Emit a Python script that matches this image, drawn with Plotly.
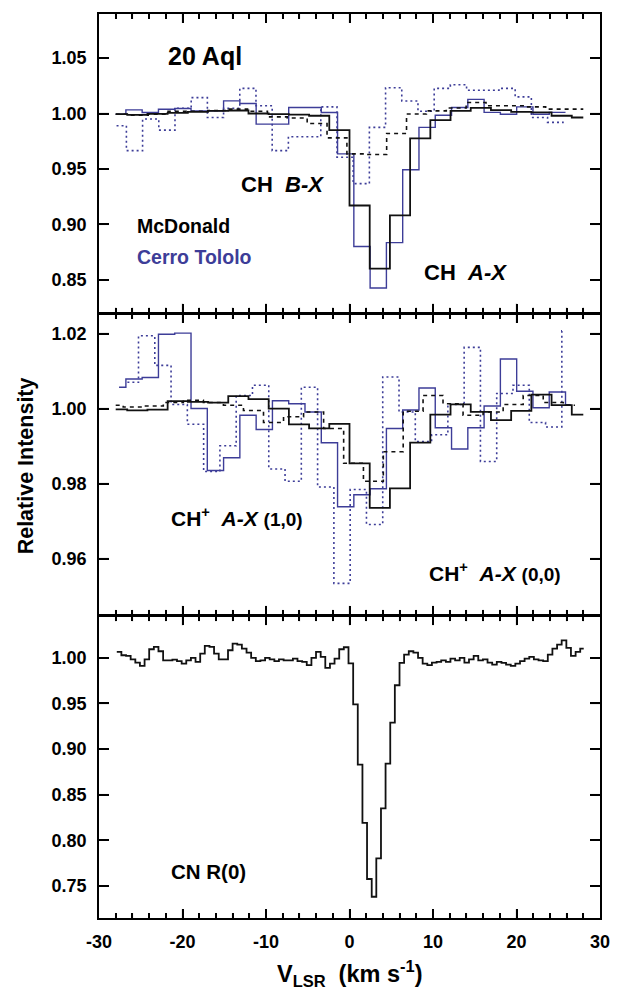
import plotly.graph_objects as go

# ---------------- data (velocity bin edges in km/s, relative intensity per bin) ----------------
# Top panel: CH
ch_ax_mcd_edges = [-28.0, -26.62, -24.2, -21.78, -19.36, -16.94, -14.52, -12.1, -9.68, -7.26, -4.84, -2.42,
                   0.0, 2.42, 4.84, 7.26, 9.68, 12.1, 14.52, 16.94, 19.36, 21.78, 24.2, 26.62, 28.0]
ch_ax_mcd_vals = [0.9994, 0.9988, 0.9997, 1.0006, 1.0015, 1.0024, 1.0027, 1.0000, 0.9994, 0.9990, 0.9980, 0.9850,
                  0.9170, 0.8600, 0.9080, 0.9776, 0.9940, 1.0024, 1.0050, 1.0030, 1.0015, 1.0010, 0.9980, 0.9964]

ch_bx_mcd_edges = [-28.0, -26.49, -24.11, -21.73, -19.35, -16.97, -14.59, -12.21, -9.83, -7.45, -5.07, -2.69,
                   -0.31, 2.07, 4.45, 6.83, 9.21, 11.59, 13.97, 16.35, 18.73, 21.11, 23.49, 25.87, 28.0]
ch_bx_mcd_vals = [0.9994, 0.9985, 0.9994, 1.0020, 1.0020, 1.0027, 1.0040, 1.0020, 0.9970, 0.9960, 0.9910, 0.9780,
                  0.9636, 0.9630, 0.9820, 0.9995, 1.0024, 1.0050, 1.0099, 1.0070, 1.0070, 1.0060, 1.0040, 1.0040]

ch_ax_ctio_edges = [-28.0, -26.78, -24.83, -22.88, -20.93, -18.98, -17.03, -15.08, -13.13, -11.18, -9.23, -7.28,
                    -5.33, -3.38, -1.43, 0.52, 2.47, 4.42, 6.37, 8.32, 10.27, 12.22, 14.17, 16.12, 18.07, 20.02,
                    21.97, 23.92, 25.87]
ch_ax_ctio_vals = [0.9994, 1.0033, 1.0009, 1.0039, 1.0045, 1.0024, 1.0024, 1.0114, 1.0090, 0.9904, 0.9904, 1.0054,
                   1.0054, 1.0009, 0.9636, 0.8800, 0.8426, 0.8835, 0.9492, 0.9875, 0.9985, 1.0054, 1.0128, 1.0010,
                   0.9994, 1.0060, 0.9994, 1.0010]

ch_bx_ctio_edges = [-27.9, -26.72, -24.78, -22.84, -20.9, -18.96, -17.02, -15.08, -13.14, -11.2, -9.26, -7.32,
                    -5.38, -3.44, -1.5, 0.44, 2.38, 4.32, 6.26, 8.2, 10.14, 12.08, 14.02, 15.96, 17.9, 19.84,
                    21.78, 23.72, 25.66]
ch_bx_ctio_vals = [0.9890, 0.9665, 0.9950, 0.9850, 1.0048, 1.0143, 0.9964, 1.0048, 1.0227, 1.0070, 0.9665, 0.9790,
                   0.9790, 1.0060, 0.9606, 0.9367, 0.9875, 1.0233, 1.0113, 1.0020, 1.0227, 1.0260, 1.0210, 1.0210,
                   1.0227, 1.0150, 0.9964, 0.9920]

# Middle panel: CH+
chp_00_mcd_edges = [-28.0, -26.62, -24.2, -21.78, -19.36, -16.94, -14.52, -12.1, -9.68, -7.26, -4.84, -2.42,
                    0.0, 2.42, 4.84, 7.26, 9.68, 12.1, 14.52, 16.94, 19.36, 21.78, 24.2, 26.62, 28.0]
chp_00_mcd_vals = [0.9998, 0.9995, 0.9997, 1.0020, 1.0018, 1.0016, 1.0033, 1.0025, 1.0000, 0.9958, 0.9947, 0.9959,
                   0.9854, 0.9735, 0.9787, 0.9909, 0.9984, 1.0011, 0.9991, 0.9969, 0.9994, 1.0037, 1.0009, 0.9984]

chp_10_mcd_edges = [-28.0, -27.1, -24.7, -22.3, -19.9, -17.5, -15.1, -12.7, -10.3, -7.9, -5.5, -3.1,
                    -0.7, 1.67, 4.05, 6.43, 8.81, 11.2, 13.6, 16.0, 18.4, 20.8, 23.2, 25.6, 27.0]
chp_10_mcd_vals = [1.0009, 1.0004, 1.0007, 1.0016, 1.0022, 1.0016, 1.0009, 0.9995, 0.9963, 0.9978, 0.9991, 0.9947,
                   0.9854, 0.9806, 0.9885, 0.9993, 1.0035, 1.0013, 0.9982, 0.9991, 1.0011, 1.0035, 1.0016, 1.0009]

chp_00_ctio_edges = [-27.6, -26.78, -24.83, -22.88, -20.93, -18.98, -17.03, -15.08, -13.13, -11.18, -9.23, -7.28,
                     -5.33, -3.38, -1.43, 0.52, 2.47, 4.42, 6.37, 8.32, 10.27, 12.22, 14.17, 16.12, 18.07, 20.02,
                     21.97, 23.92, 25.87, 26.5]
chp_00_ctio_vals = [1.0057, 1.0079, 1.0083, 1.0198, 1.0201, 1.0000, 0.9835, 0.9869, 0.9982, 0.9944, 1.0021, 1.0013,
                    0.9991, 0.9909, 0.9738, 0.9770, 0.9786, 0.9947, 0.9996, 1.0055, 0.9949, 0.9892, 0.9949, 1.0007,
                    1.0132, 1.0046, 1.0002, 1.0044, 1.0010]

chp_10_ctio_edges = [-26.6, -25.27, -23.32, -21.37, -19.42, -17.47, -15.52, -13.57, -11.62, -9.67, -7.72, -5.77,
                     -3.82, -1.87, 0.08, 2.03, 3.98, 5.93, 7.88, 9.83, 11.78, 13.73, 15.68, 17.63, 19.58, 21.53,
                     23.48, 25.43, 25.6]
chp_10_ctio_vals = [1.0070, 1.0194, 1.0115, 1.0011, 0.9958, 0.9832, 0.9901, 1.0035, 1.0062, 0.9839, 0.9806, 1.0057,
                    0.9791, 0.9534, 0.9784, 0.9691, 1.0084, 0.9991, 0.9912, 0.9930, 1.0011, 1.0163, 0.9859, 1.0040,
                    1.0062, 0.9963, 0.9951, 1.0207]

# Bottom panel: CN R(0)
cn_edges = [-27.87, -27.32, -26.76, -26.21, -25.65, -25.10, -24.54, -23.99, -23.43, -22.88,
            -22.32, -21.77, -21.21, -20.66, -20.10, -19.55, -18.99, -18.44, -17.88, -17.33,
            -16.77, -16.22, -15.66, -15.11, -14.55, -14.00, -13.44, -12.89, -12.33, -11.78,
            -11.22, -10.67, -10.11, -9.56, -9.00, -8.45, -7.89, -7.34, -6.78, -6.23,
            -5.67, -5.12, -4.56, -4.01, -3.45, -2.90, -2.34, -1.79, -1.23, -0.68,
            -0.12, 0.44, 0.99, 1.55, 2.10, 2.66, 3.21, 3.77, 4.32, 4.88,
            5.43, 5.99, 6.54, 7.10, 7.65, 8.21, 8.76, 9.32, 9.87, 10.43,
            10.98, 11.54, 12.09, 12.65, 13.20, 13.76, 14.31, 14.87, 15.42, 15.98,
            16.53, 17.09, 17.64, 18.20, 18.75, 19.31, 19.86, 20.42, 20.97, 21.53,
            22.08, 22.64, 23.19, 23.75, 24.30, 24.86, 25.41, 25.97, 26.52, 27.08,
            27.63, 28.05]
cn_vals = [1.0066, 1.0029, 1.0022, 0.9985, 0.9949, 0.9912, 0.9985, 1.0095, 1.0120, 1.0073,
           0.9974, 0.9974, 0.9982, 0.9964, 0.9938, 0.9974, 1.0000, 0.9956, 1.0047, 1.0131,
           1.0120, 1.0047, 0.9985, 0.9985, 1.0084, 1.0157, 1.0146, 1.0102, 1.0058, 1.0000,
           0.9964, 0.9974, 1.0000, 0.9985, 0.9964, 0.9985, 0.9974, 0.9974, 0.9993, 0.9964,
           0.9956, 0.9920, 1.0000, 1.0066, 1.0011, 0.9890, 0.9938, 0.9993, 1.0095, 1.0117,
           0.9940, 0.9490, 0.8830, 0.8190, 0.7575, 0.7380, 0.7800, 0.8350, 0.8840, 0.9290,
           0.9700, 0.9945, 1.0037, 1.0073, 1.0058, 1.0000, 0.9938, 0.9920, 0.9949, 0.9956,
           0.9974, 0.9956, 0.9993, 0.9974, 1.0000, 0.9949, 0.9985, 1.0022, 0.9974, 0.9985,
           0.9949, 0.9927, 0.9956, 0.9945, 0.9927, 0.9912, 0.9938, 0.9964, 0.9993, 1.0011,
           0.9985, 0.9974, 0.9964, 1.0037, 1.0102, 1.0146, 1.0193, 1.0110, 1.0022, 1.0066,
           1.0102]

# Axis ticks
x_range = [-30, 30]
x_ticks = [-30, -20, -10, 0, 10, 20, 30]
x_ticktext = ['-30', '-20', '-10', '0', '10', '20', '30']
x_minor_step = 2
top_ticks = [0.85, 0.90, 0.95, 1.00, 1.05]
mid_ticks = [0.96, 0.98, 1.00, 1.02]
bot_ticks = [0.75, 0.80, 0.85, 0.90, 0.95, 1.00]

# ---------------- styling ----------------
BLUE = '#3d3d98'
BLACK = '#111111'
FONT = 'Liberation Sans, Arial, sans-serif'

fig = go.Figure()


def add_step(edges, vals, xa, ya, color, width, dash):
    x = list(edges)
    y = list(vals) + [vals[-1]]
    fig.add_trace(go.Scatter(x=x, y=y, mode='lines', xaxis=xa, yaxis=ya,
                             line=dict(color=color, width=width, dash=dash, shape='hv'),
                             showlegend=False, hoverinfo='skip'))


# top panel (x3/y3)
add_step(ch_bx_ctio_edges, ch_bx_ctio_vals, 'x3', 'y3', BLUE, 1.6, '2px,3px')
add_step(ch_ax_ctio_edges, ch_ax_ctio_vals, 'x3', 'y3', BLUE, 1.4, 'solid')
add_step(ch_bx_mcd_edges, ch_bx_mcd_vals, 'x3', 'y3', BLACK, 1.6, '4px,4px')
add_step(ch_ax_mcd_edges, ch_ax_mcd_vals, 'x3', 'y3', BLACK, 1.8, 'solid')
# middle panel (x2/y2)
add_step(chp_10_ctio_edges, chp_10_ctio_vals, 'x2', 'y2', BLUE, 1.6, '2px,3px')
add_step(chp_00_ctio_edges, chp_00_ctio_vals, 'x2', 'y2', BLUE, 1.4, 'solid')
add_step(chp_10_mcd_edges, chp_10_mcd_vals, 'x2', 'y2', BLACK, 1.6, '4px,4px')
add_step(chp_00_mcd_edges, chp_00_mcd_vals, 'x2', 'y2', BLACK, 1.8, 'solid')
# bottom panel (x/y)
add_step(cn_edges, cn_vals, 'x', 'y', BLACK, 1.8, 'solid')

tickfont = dict(family=FONT, size=18, color='black', weight='bold')

W_PX = 622 - 99 - 19          # plot-area width in px
H_PX = 996 - 12 - 78          # plot-area height in px
gap = 1.5 / H_PX              # shift so that neighbouring frame lines coincide
domains = {'y': [0.0, 0.3337], 'y2': [0.3337 + gap, 0.6681], 'y3': [0.6681 + gap, 1.0]}

frame = dict(showline=True, linecolor='black', linewidth=1.5, mirror='ticks', showgrid=False,
             zeroline=False, ticks='inside', ticklen=9, tickwidth=1.5, tickcolor='black')


def xaxis(anchor, labels):
    return dict(frame, range=x_range, anchor=anchor, tickvals=x_ticks, ticktext=x_ticktext,
                showticklabels=labels, tickfont=tickfont, ticklabelstandoff=7,
                minor=dict(ticks='inside', tickvals=[v for v in range(x_range[0], x_range[1] + 1, x_minor_step)],
                           ticklen=5, tickwidth=1.5, tickcolor='black', showgrid=False))


def yaxis(anchor, rng, ticks, dom):
    return dict(frame, range=rng, domain=dom, anchor=anchor, tickvals=ticks, ticklen=10,
                ticktext=['%.2f' % t for t in ticks], tickfont=tickfont, ticklabelstandoff=7)


fig.update_layout(
    template='simple_white',
    width=622, height=996,
    margin=dict(l=99, r=19, t=12, b=78),
    xaxis=xaxis('y', True),
    xaxis2=xaxis('y2', False),
    xaxis3=xaxis('y3', False),
    yaxis=yaxis('x', [0.7147, 1.0456], bot_ticks, domains['y']),
    yaxis2=yaxis('x2', [0.945, 1.0252], mid_ticks, domains['y2']),
    yaxis3=yaxis('x3', [0.8204, 1.0898], top_ticks, domains['y3']),
)

# Inward tick marks on every panel edge, placed from the tick lists
# (axis value along the edge, fraction of the panel across it).
shapes = []
MAJOR_LEN, MINOR_LEN, Y_LEN = 9, 5, 10
minor_vals = [v for v in range(x_range[0] + x_minor_step, x_range[1], x_minor_step) if v not in x_ticks]
inner_major = [v for v in x_ticks if x_range[0] < v < x_range[1]]
panels = [('x', 'y', bot_ticks), ('x2', 'y2', mid_ticks), ('x3', 'y3', top_ticks)]
for xa, ya, yt in panels:
    d = domains[ya]
    hp = (d[1] - d[0]) * H_PX
    for vals, ln in ((inner_major, MAJOR_LEN), (minor_vals, MINOR_LEN)):
        f = ln / hp
        for v in vals:
            for y0, y1 in ((0, f), (1, 1 - f)):
                shapes.append(dict(type='line', xref=xa, yref=ya + ' domain', x0=v, x1=v, y0=y0, y1=y1,
                                   line=dict(color='black', width=1.5), layer='above'))
    fx = Y_LEN / W_PX
    for t in yt:
        for x0, x1 in ((0, fx), (1, 1 - fx)):
            shapes.append(dict(type='line', xref=xa + ' domain', yref=ya, x0=x0, x1=x1, y0=t, y1=t,
                               line=dict(color='black', width=1.5), layer='above'))
fig.update_layout(shapes=shapes)

ann = [
    dict(text='<b>20 Aql</b>', x=-17.26, y=1.0515, xref='x3', yref='y3', xanchor='center', yanchor='middle',
         font=dict(size=25)),
    dict(text='<b>CH&nbsp;&nbsp;<i>B-X</i></b>', x=-8.0, y=0.9355, xref='x3', yref='y3',
         xanchor='center', yanchor='middle', font=dict(size=22)),
    dict(text='<b>McDonald</b>', x=-25.71, y=0.8989, xref='x3', yref='y3', xanchor='left', yanchor='middle',
         font=dict(size=19.5, color='black')),
    dict(text='<b>Cerro Tololo</b>', x=-25.71, y=0.8703, xref='x3', yref='y3', xanchor='left',
         yanchor='middle', font=dict(size=19.5, color=BLUE)),
    dict(text='<b>CH&nbsp;&nbsp;<i>A-X</i></b>', x=13.9, y=0.8568, xref='x3', yref='y3',
         xanchor='center', yanchor='middle', font=dict(size=22)),
    dict(text='<b>CH<sup>+</sup>&nbsp;&nbsp;<i>A-X</i></b> <b><span style="font-size:19px">(1,0)</span></b>',
         x=-21.58, y=0.9710, xref='x2', yref='y2', xanchor='left', yanchor='middle', font=dict(size=21)),
    dict(text='<b>CH<sup>+</sup>&nbsp;&nbsp;<i>A-X</i></b> <b><span style="font-size:19px">(0,0)</span></b>',
         x=9.32, y=0.9563, xref='x2', yref='y2', xanchor='left', yanchor='middle', font=dict(size=21)),
    dict(text='<b>CN R(0)</b>', x=-21.63, y=0.7659, xref='x', yref='y', xanchor='left', yanchor='middle',
         font=dict(size=20.5)),
    dict(text='<b>Relative Intensity</b>', x=-0.145, y=0.5, xref='paper', yref='paper', textangle=-90,
         xanchor='center', yanchor='middle', font=dict(size=21.5)),
    dict(text='<b>V<sub>LSR</sub>&nbsp;&nbsp;(km s<sup>-1</sup>)</b>', x=0.5, y=-0.061, xref='paper',
         yref='paper', xanchor='center', yanchor='middle', font=dict(size=23.5)),
]
for a in ann:
    a['showarrow'] = False
    a['font'] = dict(family=FONT, color=a['font'].get('color', 'black'), size=a['font']['size'])
fig.update_layout(annotations=ann)

fig.write_html('out.html')
